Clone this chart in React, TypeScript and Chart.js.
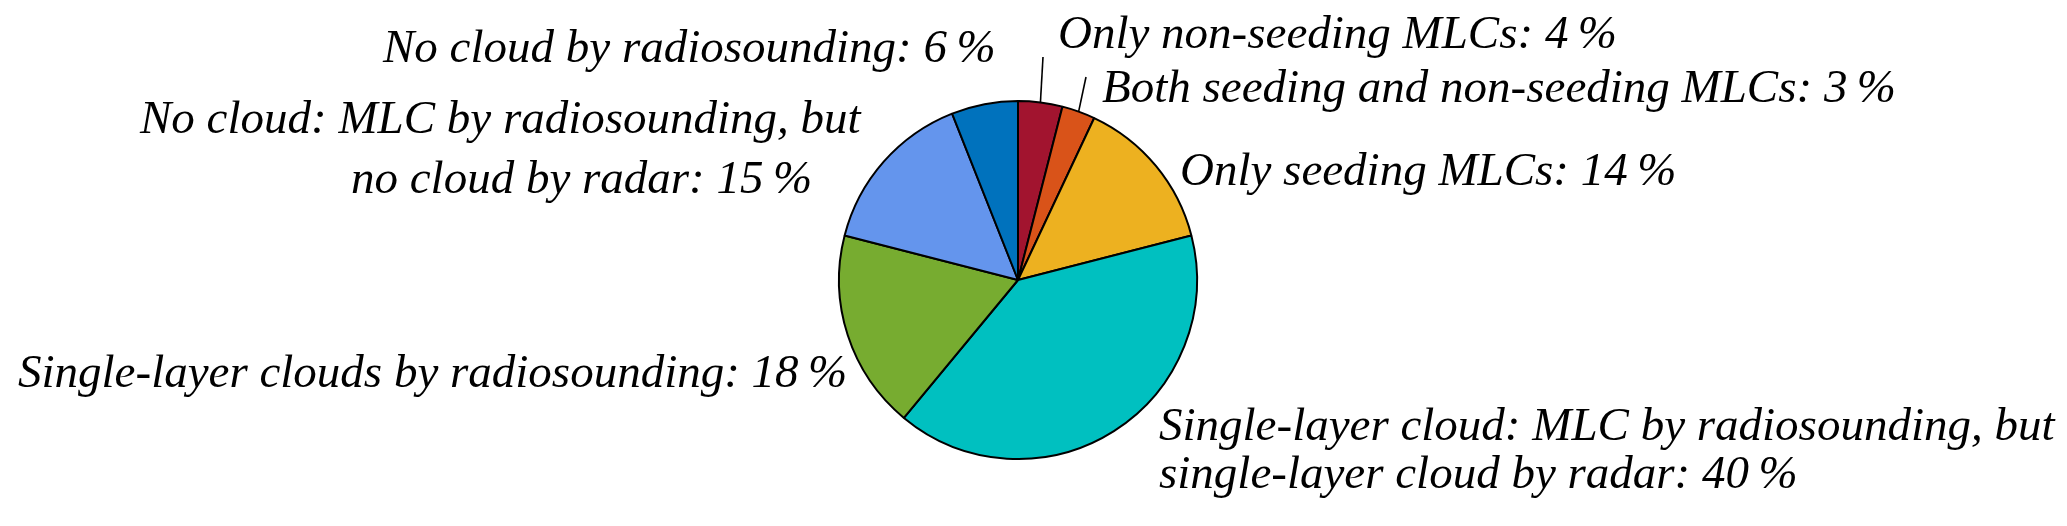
import React, { useEffect, useRef } from "react";
import { Chart, registerables } from "chart.js";

Chart.register(...registerables);

const categories = [
  "Only non-seeding MLCs",
  "Both seeding and non-seeding MLCs",
  "Only seeding MLCs",
  "Single-layer cloud: MLC by radiosounding, but single-layer cloud by radar",
  "Single-layer clouds by radiosounding",
  "No cloud: MLC by radiosounding, but no cloud by radar",
  "No cloud by radiosounding",
];
const percentages = [4, 3, 14, 40, 18, 15, 6];
const sliceColors = ["#A2142F", "#D95319", "#EDB120", "#00C0C0", "#77AC30", "#6495ED", "#0072BD"];

// label text lines (percent appended from data)
const labelLines: string[][] = [
  ["Only non-seeding MLCs: "],
  ["Both seeding and non-seeding MLCs: "],
  ["Only seeding MLCs: "],
  ["Single-layer cloud: MLC by radiosounding, but", "single-layer cloud by radar: "],
  ["Single-layer clouds by radiosounding: "],
  ["No cloud: MLC by radiosounding, but", "no cloud by radar: "],
  ["No cloud by radiosounding: "],
];
// layout: [x, baseline y] of each line
const labelPos: number[][][] = [
  [[1058, 48]],
  [[1102, 102]],
  [[1180, 185]],
  [[1159, 440], [1159, 488]],
  [[18, 387]],
  [[140, 133], [351, 193]],
  [[383, 62]],
];
// leader lines: slice index and outer end point
const leaders: { idx: number; x: number; y: number }[] = [
  { idx: 0, x: 1043, y: 57 },
  { idx: 1, x: 1086, y: 77 },
];

const labelPlugin = {
  id: "pieLabels",
  afterDraw(chart: any) {
    const ctx = chart.ctx;
    const meta = chart.getDatasetMeta(0);
    ctx.save();
    ctx.strokeStyle = "#000";
    ctx.lineWidth = 1.6;
    leaders.forEach((l) => {
      const arc = meta.data[l.idx];
      const mid = (arc.startAngle + arc.endAngle) / 2;
      const bx = arc.x + Math.cos(mid) * arc.outerRadius;
      const by = arc.y + Math.sin(mid) * arc.outerRadius;
      ctx.beginPath();
      ctx.moveTo(bx, by);
      ctx.lineTo(l.x, l.y);
      ctx.stroke();
    });
    ctx.fillStyle = "#000";
    ctx.font = "italic 47px 'Liberation Serif', 'Times New Roman', serif";
    ctx.textAlign = "left";
    ctx.textBaseline = "alphabetic";
    labelLines.forEach((lines, i) => {
      lines.forEach((txt, j) => {
        const isLast = j === lines.length - 1;
        const t = isLast ? txt + percentages[i] + "\u2009%" : txt;
        const [x, y] = labelPos[i][j];
        ctx.fillText(t, x, y);
      });
    });
    ctx.restore();
  },
};

export default function App() {
  const ref = useRef<HTMLCanvasElement>(null);
  useEffect(() => {
    document.body.style.margin = "0";
    const chart = new Chart(ref.current as HTMLCanvasElement, {
      type: "pie",
      data: {
        labels: categories,
        datasets: [
          {
            data: percentages,
            backgroundColor: sliceColors,
            borderColor: "#000",
            borderWidth: 2,
          },
        ],
      },
      options: {
        responsive: false,
        animation: false,
        radius: 179,
        layout: { padding: { left: 0, right: 31, top: 34, bottom: 0 } },
        plugins: {
          legend: { display: false },
          tooltip: { enabled: false },
        },
      } as any,
      plugins: [labelPlugin],
    });
    return () => chart.destroy();
  }, []);
  return (
    <div style={{ width: 2067, height: 526, background: "#fff" }}>
      <canvas ref={ref} width={2067} height={526} style={{ display: "block" }} />
    </div>
  );
}
